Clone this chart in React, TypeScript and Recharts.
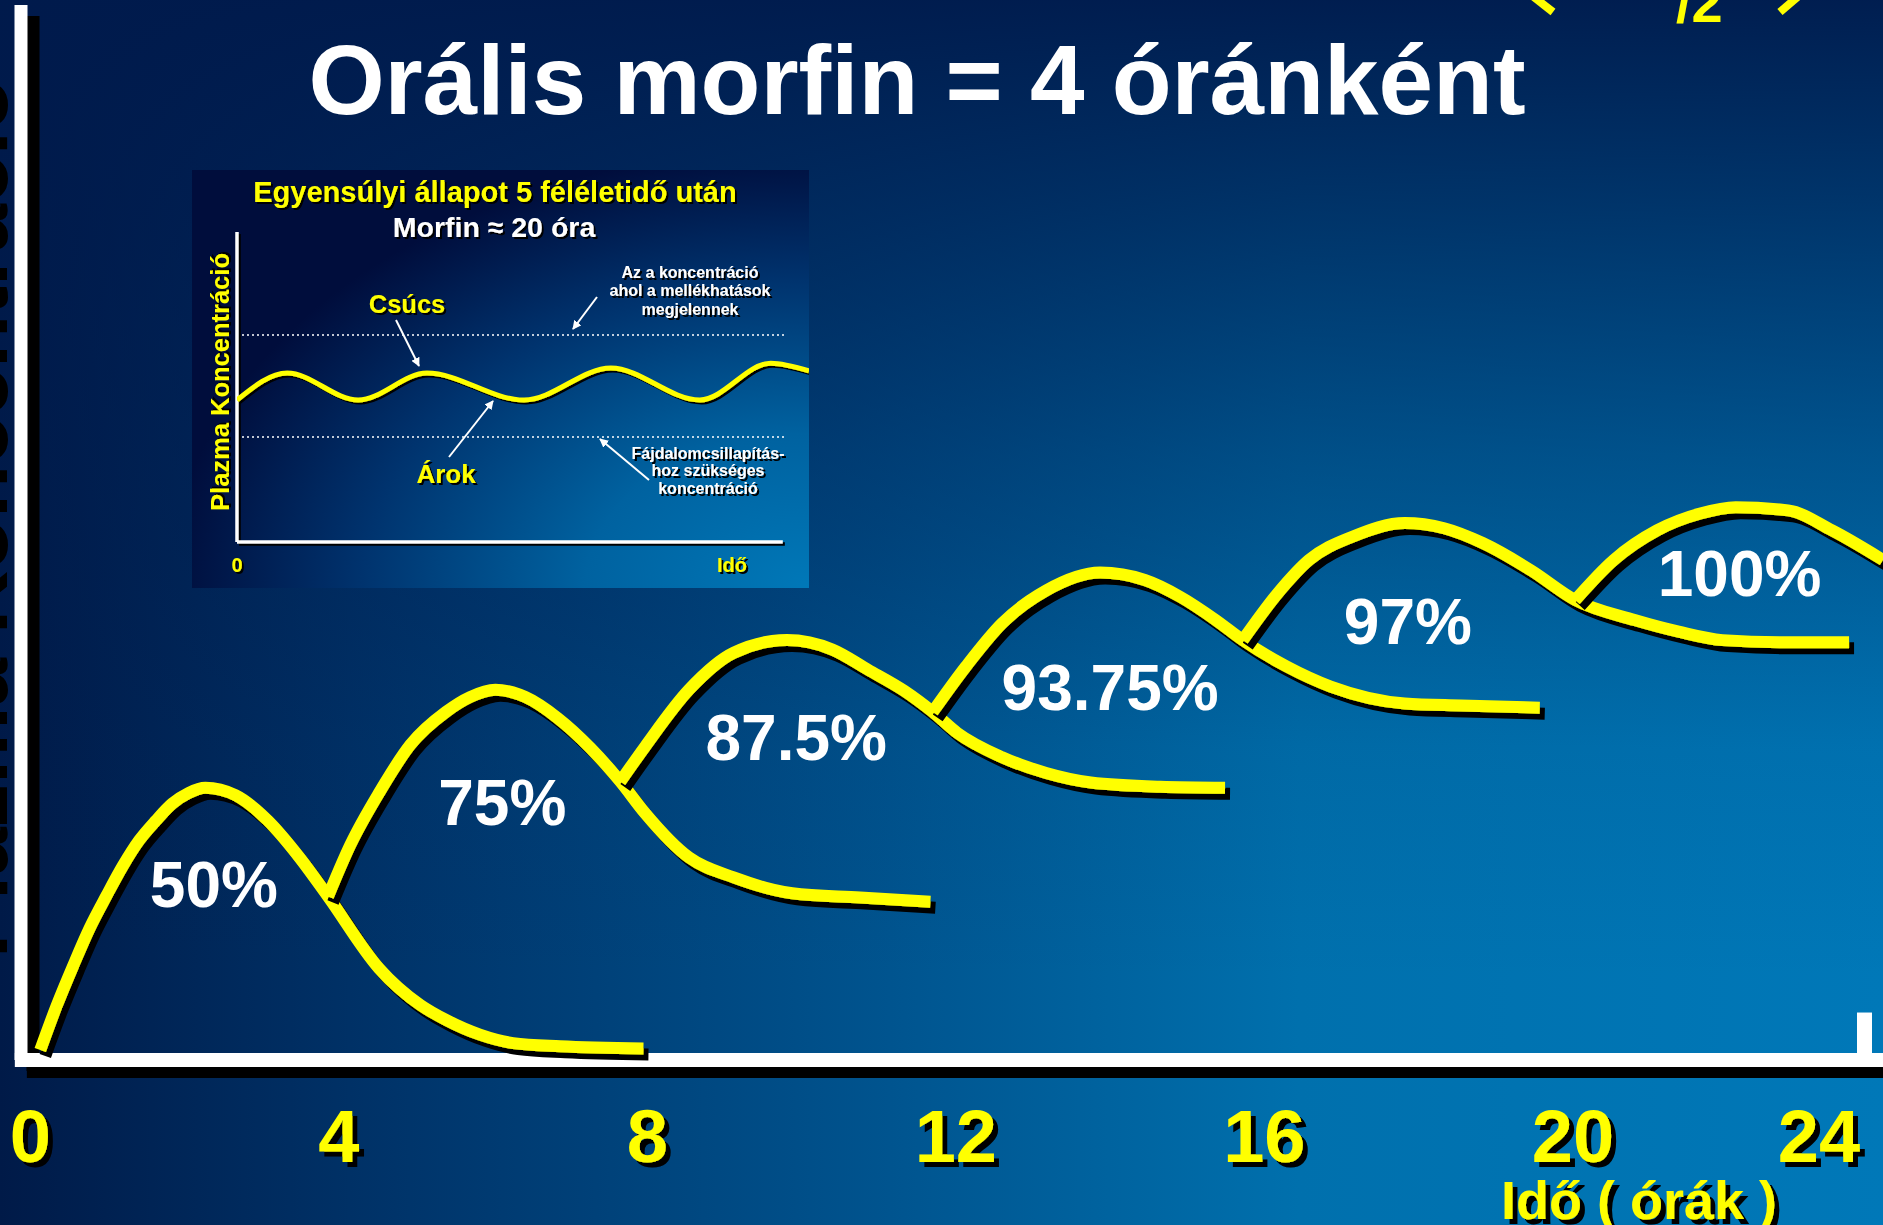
import { ComposedChart, LineChart, Line, Scatter, XAxis, YAxis, ReferenceLine } from 'recharts'

const W = 1883
const H = 1225
const FONT = '"Liberation Sans", Arial, Helvetica, sans-serif'
const YELLOW = '#ffff00'

// hours shown under the main axis
const HOUR_TICKS = [0, 4, 8, 12, 16, 20, 24]

// plasma level after each 4-hourly dose (t = hours, c = relative level)
const dose1 = [
    { t: 0.13, c: 0.95 }, { t: 0.34, c: 5.1 }, { t: 0.56, c: 9.0 }, { t: 0.77, c: 12.5 },
    { t: 0.99, c: 15.6 }, { t: 1.2, c: 18.4 }, { t: 1.41, c: 20.8 }, { t: 1.63, c: 22.7 },
    { t: 1.84, c: 24.3 }, { t: 2.05, c: 25.3 }, { t: 2.27, c: 25.8 }, { t: 2.66, c: 25.1 },
    { t: 3.08, c: 22.7 }, { t: 3.5, c: 19.1 }, { t: 3.86, c: 15.5 }, { t: 4.52, c: 8.7 },
    { t: 5.06, c: 5.2 }, { t: 5.39, c: 3.8 }, { t: 5.83, c: 2.4 }, { t: 6.26, c: 1.6 },
    { t: 6.87, c: 1.3 }, { t: 7.95, c: 1.1 },
]
const dose2 = [
    { t: 3.86, c: 15.5 }, { t: 4.15, c: 20.4 }, { t: 4.52, c: 25.3 }, { t: 4.93, c: 29.9 },
    { t: 5.39, c: 33.0 }, { t: 5.7, c: 34.4 }, { t: 6.03, c: 35.1 }, { t: 6.42, c: 34.4 },
    { t: 6.84, c: 32.4 }, { t: 7.26, c: 29.6 }, { t: 7.65, c: 26.4 }, { t: 7.97, c: 23.4 },
    { t: 8.54, c: 19.2 }, { t: 9.12, c: 17.3 }, { t: 9.88, c: 15.8 }, { t: 10.76, c: 15.4 },
    { t: 11.67, c: 15.0 },
]
const dose3 = [
    { t: 7.65, c: 26.4 }, { t: 7.97, c: 29.7 }, { t: 8.54, c: 35.1 }, { t: 9.12, c: 38.6 },
    { t: 9.81, c: 39.8 }, { t: 10.4, c: 38.9 }, { t: 10.86, c: 37.0 }, { t: 11.33, c: 35.0 },
    { t: 11.7, c: 33.0 }, { t: 12.02, c: 31.0 }, { t: 12.6, c: 28.7 }, { t: 13.17, c: 27.2 },
    { t: 13.75, c: 26.3 }, { t: 14.65, c: 25.9 }, { t: 15.49, c: 25.8 },
]
const dose4 = [
    { t: 11.7, c: 33.0 }, { t: 12.13, c: 37.3 }, { t: 12.6, c: 41.4 }, { t: 13.17, c: 44.5 },
    { t: 13.87, c: 46.2 }, { t: 14.45, c: 45.5 }, { t: 14.91, c: 43.9 }, { t: 15.37, c: 41.7 },
    { t: 15.72, c: 39.8 }, { t: 16.29, c: 37.3 }, { t: 16.86, c: 35.4 }, { t: 17.82, c: 33.8 },
    { t: 18.55, c: 33.6 }, { t: 19.57, c: 33.4 },
]
const dose5 = [
    { t: 15.72, c: 39.8 }, { t: 16.18, c: 44.3 }, { t: 16.58, c: 47.4 }, { t: 17.14, c: 49.6 },
    { t: 17.82, c: 50.9 }, { t: 18.33, c: 50.4 }, { t: 18.83, c: 49.0 }, { t: 19.46, c: 46.4 },
    { t: 20.03, c: 43.6 }, { t: 20.8, c: 41.7 }, { t: 21.37, c: 40.6 }, { t: 21.94, c: 39.8 },
    { t: 22.68, c: 39.6 }, { t: 23.58, c: 39.6 },
]
const dose6 = [
    { t: 20.03, c: 43.6 }, { t: 20.53, c: 47.4 }, { t: 21.09, c: 50.2 }, { t: 21.65, c: 51.8 },
    { t: 22.11, c: 52.4 }, { t: 22.79, c: 52.1 }, { t: 23.36, c: 50.2 }, { t: 24.02, c: 47.4 },
]
const DOSES = [dose1, dose2, dose3, dose4, dose5, dose6]

// percentage of steady state written under each peak
const PCT_LABELS = ['50%', '75%', '87.5%', '93.75%', '97%', '100%']
const PCT_T = [2.38, 6.12, 9.93, 14.0, 17.86, 22.16]
const PCT_C = [16.7, 24.5, 30.6, 35.4, 41.6, 46.2]

// inset: steady-state oscillation
const INSET_WAVE = [
    { t: 0, c: 45.8 }, { t: 0.92, c: 54.5 }, { t: 2.22, c: 45.8 }, { t: 3.48, c: 54.5 },
    { t: 5.26, c: 45.8 }, { t: 6.85, c: 56.1 }, { t: 8.48, c: 45.8 }, { t: 9.78, c: 57.7 },
    { t: 10.48, c: 55.2 },
]
const SIDE_EFFECT_LEVEL = 66.8
const ANALGESIC_LEVEL = 33.9
const INSET_AXIS_END = 10
const INSET_DOT_END = 10.07

const labelData = PCT_LABELS.map((label, i) => ({ t: PCT_T[i], c: PCT_C[i], label }))

// main axis frame (data units) and its drop-shadow shift
const X_MIN = -0.12
const X_MAX = 24.02
const AXIS_START = -0.2
const SH_DX = 0.156
const SH_DY = 1.04
const END_TICK = 23.78

function HourTick(props: any) {
    const { x, y, payload } = props
    // last label is pulled back inside the frame
    const cx = Math.min(x, W - 64)
    return (
        <text x={cx} y={y + 102} textAnchor="middle" fill={YELLOW} fontFamily={FONT}
            fontWeight={700} fontSize={74} filter="url(#shTick)">
            {payload.value}
        </text>
    )
}

function PctLabel(props: any) {
    const { cx, cy, payload } = props
    return (
        <text x={cx} y={cy + 23} textAnchor="middle" fill="#fff" fontFamily={FONT}
            fontWeight={700} fontSize={64}>
            {payload.label}
        </text>
    )
}

function Inset() {
    const txt = { fontFamily: FONT, fontWeight: 700 }
    return (
        <div style={{
            position: 'absolute', left: 192, top: 170, width: 617, height: 418,
            background: 'radial-gradient(ellipse 640px 440px at 617px 418px, #0078b8 0%, #0062a0 35%, #00336e 70%, #000d3c 100%)',
        }}>
            <LineChart width={617} height={418} margin={{ top: 62, right: 0, left: 45, bottom: 46 }} className="inset-chart">
                <XAxis type="number" dataKey="t" domain={[0, 10.48]} allowDataOverflow hide />
                <YAxis type="number" domain={[0, 100]} hide />
                <ReferenceLine segment={[{ x: 0, y: SIDE_EFFECT_LEVEL }, { x: INSET_DOT_END, y: SIDE_EFFECT_LEVEL }]}
                    stroke="#fff" strokeWidth={1.5} strokeDasharray="2 3" />
                <ReferenceLine segment={[{ x: 0, y: ANALGESIC_LEVEL }, { x: INSET_DOT_END, y: ANALGESIC_LEVEL }]}
                    stroke="#fff" strokeWidth={1.5} strokeDasharray="2 3" />
                <ReferenceLine segment={[{ x: 0.037, y: -0.65 }, { x: 0.037, y: 99.35 }]} ifOverflow="visible"
                    stroke="#000" strokeWidth={3.5} />
                <ReferenceLine segment={[{ x: 0.037, y: -0.65 }, { x: INSET_AXIS_END + 0.037, y: -0.65 }]} ifOverflow="visible"
                    stroke="#000" strokeWidth={3.5} />
                <ReferenceLine segment={[{ x: 0, y: 0 }, { x: 0, y: 100 }]} stroke="#fff" strokeWidth={3.5} />
                <ReferenceLine segment={[{ x: 0, y: 0 }, { x: INSET_AXIS_END, y: 0 }]} stroke="#fff" strokeWidth={3.5} />
                <Line data={INSET_WAVE} dataKey="c" type="monotone" stroke={YELLOW} strokeWidth={5}
                    dot={false} activeDot={false} isAnimationActive={false} />
            </LineChart>
            <svg width={617} height={418} style={{ position: 'absolute', left: 0, top: 0, pointerEvents: 'none' }}>
                <defs>
                    <marker id="arrowHead" viewBox="0 0 10 10" refX="9" refY="5" markerWidth="4.5" markerHeight="4.5" orient="auto">
                        <path d="M0,0 L10,5 L0,10 z" fill="#fff" />
                    </marker>
                </defs>
                <text x={303} y={32} textAnchor="middle" fill={YELLOW} fontSize={29} {...txt} filter="url(#shSmall)">
                    Egyensúlyi állapot 5 féléletidő után
                </text>
                <text x={302} y={67} textAnchor="middle" fill="#fff" fontSize={28.5} {...txt} filter="url(#shSmall)">
                    Morfin ≈ 20 óra
                </text>
                <text x={37} y={212} transform="rotate(-90 37 212)" textAnchor="middle" fill={YELLOW} fontSize={25.5} {...txt} filter="url(#shSmall)">
                    Plazma Koncentráció
                </text>
                <text x={45} y={402} textAnchor="middle" fill={YELLOW} fontSize={20} {...txt} filter="url(#shSmall)">0</text>
                <text x={540} y={402} textAnchor="middle" fill={YELLOW} fontSize={20} {...txt} filter="url(#shSmall)">Idő</text>
                <text x={215} y={143} textAnchor="middle" fill={YELLOW} fontSize={25.5} {...txt} filter="url(#shSmall)">Csúcs</text>
                <text x={254} y={313} textAnchor="middle" fill={YELLOW} fontSize={26} {...txt} filter="url(#shSmall)">Árok</text>
                <g fill="#fff" fontSize={16} textAnchor="middle" {...txt} filter="url(#shSmall)">
                    <text x={498} y={108}>Az a koncentráció</text>
                    <text x={498} y={126}>ahol a mellékhatások</text>
                    <text x={498} y={145}>megjelennek</text>
                    <text x={516} y={289}>Fájdalomcsillapítás-</text>
                    <text x={516} y={306}>hoz szükséges</text>
                    <text x={516} y={324}>koncentráció</text>
                </g>
                <g stroke="#fff" strokeWidth={2} markerEnd="url(#arrowHead)">
                    <line x1={204} y1={150} x2={227} y2={196} />
                    <line x1={257} y1={287} x2={301} y2={231} />
                    <line x1={405} y1={127} x2={381} y2={159} />
                    <line x1={457} y1={310} x2={408} y2={269} />
                </g>
            </svg>
        </div>
    )
}

export default function App() {
    return (
        <div style={{
            position: 'absolute', left: 0, top: 0, width: W, height: H, overflow: 'hidden',
            background: [
                'linear-gradient(to bottom, rgba(0,26,76,0.96) 0%, rgba(0,26,76,0.72) 16%, rgba(0,26,76,0.39) 37%, rgba(0,26,76,0.08) 61%, rgba(0,26,76,0) 80%)',
                'linear-gradient(to right, #001a48 0%, #00346a 21%, #005590 48%, #0070ad 69%, #0078b8 100%)',
            ].join(', '),
        }}>
            <style>{`
                .main-chart .recharts-line-curve { filter: url(#shCurve); }
                .inset-chart .recharts-line-curve { filter: url(#shSmall); }
            `}</style>
            <svg width={0} height={0} style={{ position: 'absolute' }}>
                <defs>
                    <filter id="shCurve" filterUnits="userSpaceOnUse" x={-100} y={-100} width={3000} height={3000}>
                        <feDropShadow dx={5} dy={6} stdDeviation={0} floodColor="#000" floodOpacity={1} />
                    </filter>
                    <filter id="shTick" filterUnits="userSpaceOnUse" x={-100} y={-100} width={3000} height={3000}>
                        <feDropShadow dx={5} dy={5} stdDeviation={0.5} floodColor="#000" floodOpacity={1} />
                    </filter>
                    <filter id="shSmall" filterUnits="userSpaceOnUse" x={-100} y={-100} width={3000} height={3000}>
                        <feDropShadow dx={2} dy={2} stdDeviation={0.3} floodColor="#000" floodOpacity={1} />
                    </filter>
                </defs>
            </svg>

            <ComposedChart width={W} height={H} margin={{ top: 5, right: 0, left: 21, bottom: 0 }} className="main-chart">
                <XAxis type="number" dataKey="t" domain={[X_MIN, X_MAX]} allowDataOverflow ticks={HOUR_TICKS}
                    interval={0} height={165} tickSize={0} tickMargin={0} tickLine={false} axisLine={false}
                    tick={(p: any) => <HourTick {...p} />} />
                <YAxis type="number" dataKey="c" domain={[0, 100]} hide />
                {/* axis frame: black shadow first, white line on top */}
                <ReferenceLine segment={[{ x: X_MIN + SH_DX, y: -SH_DY }, { x: X_MIN + SH_DX, y: 100 - SH_DY }]}
                    ifOverflow="visible" stroke="#000" strokeWidth={13} />
                <ReferenceLine segment={[{ x: AXIS_START + SH_DX, y: -SH_DY }, { x: X_MAX, y: -SH_DY }]}
                    ifOverflow="visible" stroke="#000" strokeWidth={14} />
                <ReferenceLine segment={[{ x: X_MIN, y: 0 }, { x: X_MIN, y: 100 }]}
                    ifOverflow="visible" stroke="#fff" strokeWidth={13} />
                <ReferenceLine segment={[{ x: AXIS_START, y: 0 }, { x: X_MAX, y: 0 }]}
                    ifOverflow="visible" stroke="#fff" strokeWidth={14} />
                <ReferenceLine segment={[{ x: END_TICK, y: 0 }, { x: END_TICK, y: 4.5 }]}
                    ifOverflow="visible" stroke="#fff" strokeWidth={15} />
                {DOSES.map((d, i) => (
                    <Line key={`dose-${i}`} data={d} dataKey="c" type="monotone" stroke={YELLOW} strokeWidth={12}
                        dot={false} activeDot={false} isAnimationActive={false} />
                ))}
                <Scatter data={labelData} dataKey="c" shape={(p: any) => <PctLabel {...p} />} isAnimationActive={false} />
            </ComposedChart>

            <svg width={W} height={H} style={{ position: 'absolute', left: 0, top: 0, pointerEvents: 'none' }}>
                <text x={917} y={114} textAnchor="middle" fill="#fff" fontFamily={FONT} fontWeight={700} fontSize={98}>
                    Orális morfin = 4 óránként
                </text>
                <text x={1639} y={1219} textAnchor="middle" fill={YELLOW} fontFamily={FONT} fontWeight={700}
                    fontSize={54} filter="url(#shTick)">
                    Idő ( órák )
                </text>
                <text x={7} y={518} transform="rotate(-90 7 518)" textAnchor="middle" fill="#000" fontFamily={FONT}
                    fontWeight={700} fontSize={87}>
                    Plazma Koncentráció
                </text>
                <text x={1676} y={22} fill={YELLOW} fontFamily={FONT} fontWeight={700} fontSize={56}>/2</text>
                <line x1={1530} y1={-6} x2={1553} y2={12} stroke={YELLOW} strokeWidth={8} />
                <line x1={1801} y1={-6} x2={1780} y2={12} stroke={YELLOW} strokeWidth={8} />
            </svg>

            <Inset />
        </div>
    )
}
